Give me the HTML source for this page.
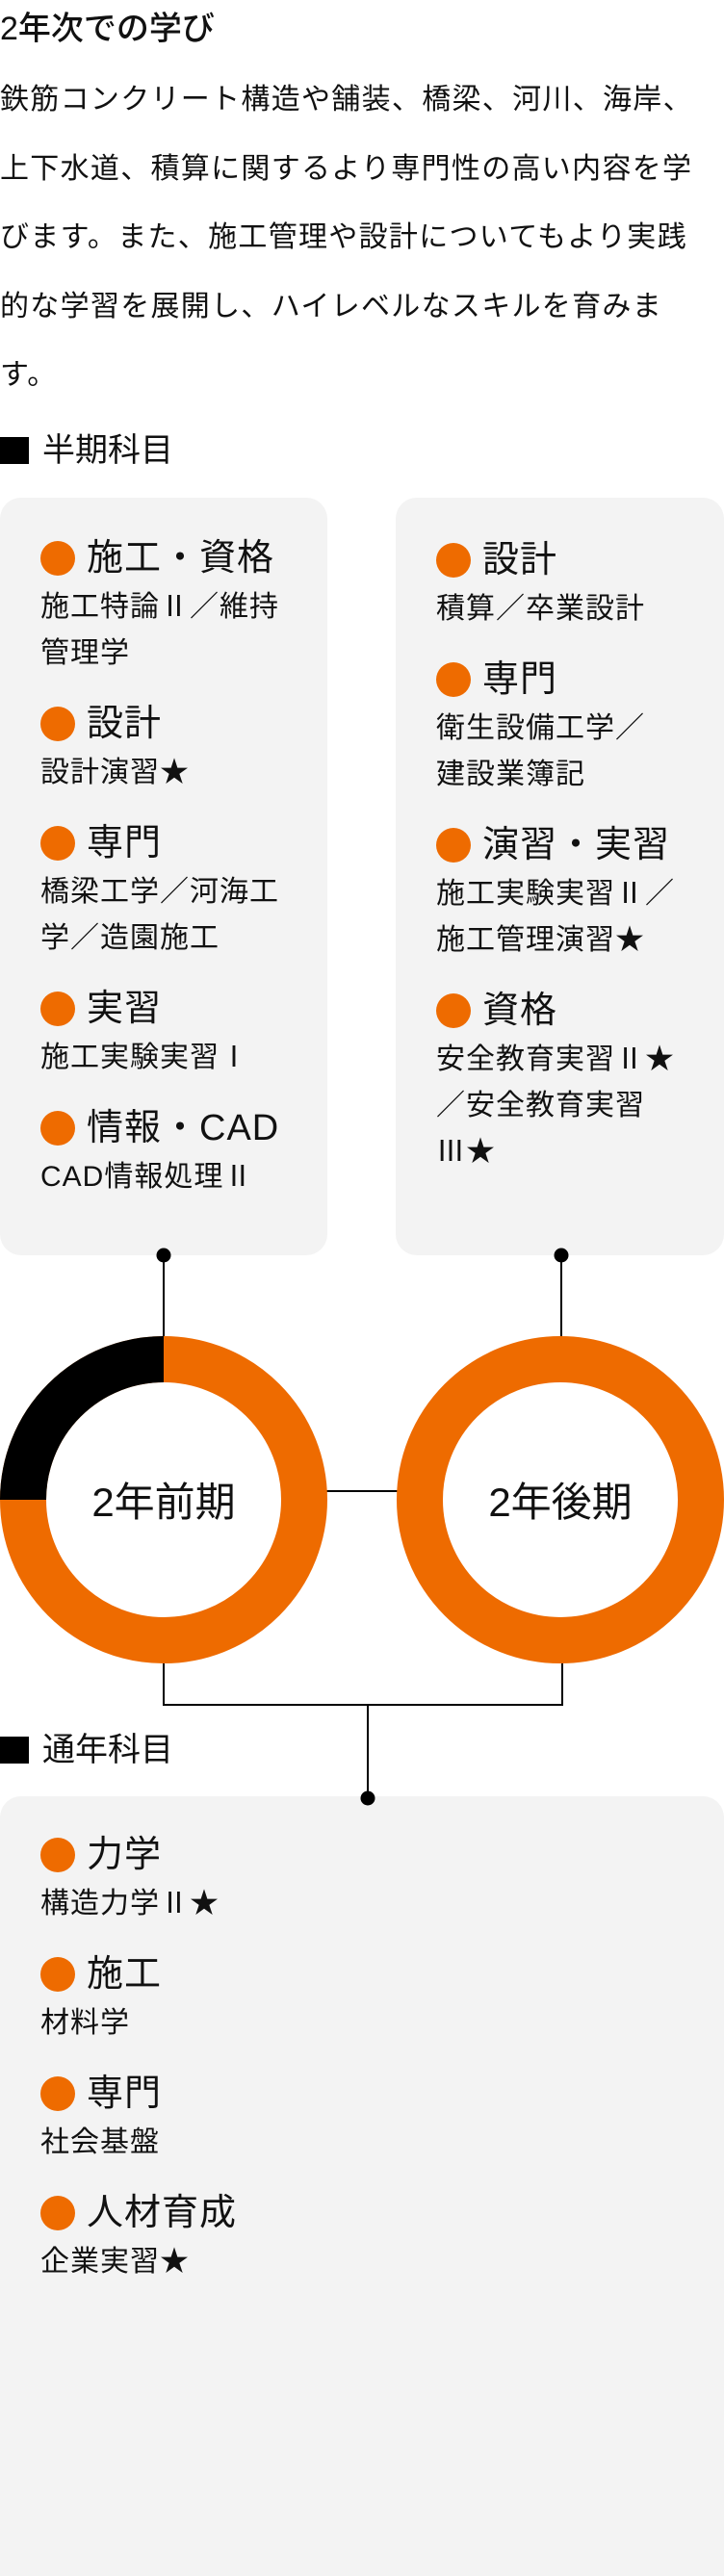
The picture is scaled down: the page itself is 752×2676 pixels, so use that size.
<!DOCTYPE html>
<html><head><meta charset="utf-8"><style>
*{margin:0;padding:0;box-sizing:border-box}
body{width:752px;height:2676px;background:#fff;position:relative;overflow:hidden;font-family:"Liberation Sans","Noto Sans CJK JP",sans-serif;color:#111}
.abs{position:absolute;white-space:nowrap}
.title{left:0;top:8px;font-size:34px;line-height:44px;font-weight:500}
.para{left:0;top:68px;font-size:30px;line-height:71.5px;letter-spacing:1.3px}
.sec{left:0;font-size:34px;line-height:44px}
.sq{display:inline-block;width:30px;height:28px;background:#000;vertical-align:-3px;margin-right:14px}
.box{position:absolute;background:#f3f3f3;border-radius:22px;z-index:0}
.list{position:absolute;left:42px;z-index:3}
.h{position:relative;font-size:38px;line-height:54px;padding-left:48px;letter-spacing:1px}
.h::before{content:"";position:absolute;left:0;top:9px;width:36px;height:36px;border-radius:50%;background:#ee6b00}
.s{font-size:30px;line-height:48px;letter-spacing:1px;margin-bottom:22px;white-space:nowrap}
svg{z-index:2}
</style></head><body>
<div class="abs title">2年次での学び</div>
<div class="abs para">鉄筋コンクリート構造や舗装、橋梁、河川、海岸、<br>上下水道、積算に関するより専門性の高い内容を学<br>びます。また、施工管理や設計についてもより実践<br>的な学習を展開し、ハイレベルなスキルを育みま<br>す。</div>
<div class="abs sec" style="top:446px"><span class="sq"></span>半期科目</div>

<div class="box" style="left:0;top:517px;width:340px;height:787px"></div>
<div class="box" style="left:411px;top:517px;width:341px;height:787px"></div>
<div class="box" style="left:0;top:1866px;width:752px;height:810px;border-radius:22px 22px 0 0"></div>
<div class="list" style="left:42px;top:553px">
<div class="h">施工・資格</div><div class="s">施工特論Ⅱ／維持<br>管理学</div>
<div class="h">設計</div><div class="s">設計演習★</div>
<div class="h">専門</div><div class="s">橋梁工学／河海工<br>学／造園施工</div>
<div class="h">実習</div><div class="s">施工実験実習Ⅰ</div>
<div class="h">情報・CAD</div><div class="s">CAD情報処理Ⅱ</div>
</div>
<div class="list" style="left:453px;top:555px">
<div class="h">設計</div><div class="s">積算／卒業設計</div>
<div class="h">専門</div><div class="s">衛生設備工学／<br>建設業簿記</div>
<div class="h">演習・実習</div><div class="s">施工実験実習Ⅱ／<br>施工管理演習★</div>
<div class="h">資格</div><div class="s">安全教育実習Ⅱ★<br>／安全教育実習<br>Ⅲ★</div>
</div>

<svg class="abs" style="left:0;top:0" width="752" height="2676">
<g stroke="#000" stroke-width="2" fill="none">
<line x1="170" y1="1304" x2="170" y2="1390"/>
<line x1="583" y1="1304" x2="583" y2="1390"/>
<line x1="338" y1="1549" x2="418" y2="1549"/>
<polyline points="170,1726 170,1771 584,1771 584,1726"/>
<line x1="382" y1="1771" x2="382" y2="1868"/>
</g>
<g fill="#000">
<circle cx="170" cy="1304" r="7.5"/><circle cx="583" cy="1304" r="7.5"/><circle cx="382" cy="1868" r="7.5"/>
</g>
<circle cx="170" cy="1558" r="146" fill="none" stroke="#ee6b00" stroke-width="48"/>
<path d="M24,1558 A146,146 0 0 1 170,1412" fill="none" stroke="#000" stroke-width="48"/>
<circle cx="582" cy="1558" r="146" fill="none" stroke="#ee6b00" stroke-width="48"/>
<text x="170" y="1575" font-size="42" text-anchor="middle" font-family="Liberation Sans, Noto Sans CJK JP, sans-serif" fill="#111">2年前期</text>
<text x="582" y="1575" font-size="42" text-anchor="middle" font-family="Liberation Sans, Noto Sans CJK JP, sans-serif" fill="#111">2年後期</text>
</svg>

<div class="abs sec" style="top:1796px"><span class="sq"></span>通年科目</div>
<div class="list" style="left:42px;top:1900px">
<div class="h">力学</div><div class="s">構造力学Ⅱ★</div>
<div class="h">施工</div><div class="s">材料学</div>
<div class="h">専門</div><div class="s">社会基盤</div>
<div class="h">人材育成</div><div class="s">企業実習★</div>
</div>
</body></html>
